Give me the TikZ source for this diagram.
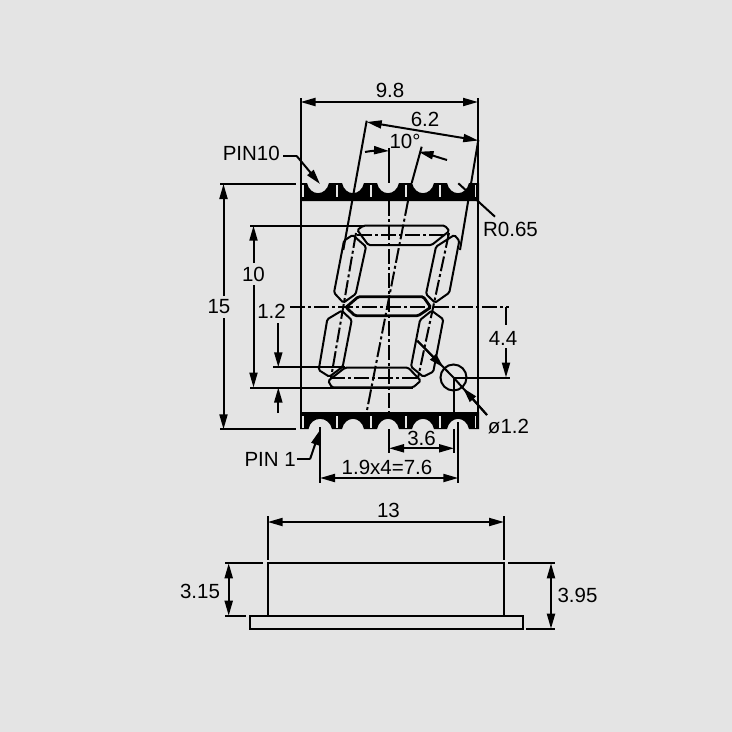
\documentclass[tikz,border=0pt]{standalone}
\usepackage{fontspec}
\setmainfont{Liberation Sans}
\usetikzlibrary{arrows.meta}
\definecolor{bgc}{HTML}{E4E4E4}
\tikzset{
  ln/.style={line width=2pt,black,line cap=butt,line join=miter},
  dim/.style={ln,{Triangle[length=15pt,width=8pt]}-{Triangle[length=15pt,width=8pt]}},
  arr/.style={ln,-{Triangle[length=15pt,width=8pt]}},
  cline/.style={ln,dash pattern=on 15pt off 3pt on 3pt off 3pt},
  seg/.style={ln,rounded corners=1.5pt},
  lab/.style={inner sep=0pt,font=\fontsize{20.5}{24}\selectfont},
  tick/.style={line width=1.5pt,bgc}
}
\begin{document}
\begin{tikzpicture}[x=1pt,y=-1pt]
\fill[bgc] (0,0) rectangle (732,732);
\useasboundingbox (0,0) rectangle (732,732);

% outline verticals
\draw[ln] (300.5,98) -- (300.5,429);
\draw[ln] (478,98) -- (478,429);

% centre lines
\draw[ln] (389,148) -- (389,183);
\draw[cline] (389,201) -- (389,412);
\draw[ln] (421.7,146.7) -- (411.7,183);
\draw[cline] (408,201) -- (366.7,411.7);
\draw[ln] (366.7,120.7) -- (343.3,250);
\draw[ln] (478.3,140) -- (460,250);
\draw[cline] (356,233) -- (331,378);
\draw[cline] (449,233) -- (418,378);
\draw[cline] (290,307) -- (509,307);
\draw[cline] (357,235) -- (448,235);
\draw[cline] (330,377.5) -- (420,377.5);

% segments
\draw[seg] (357.3,230) -- (363.3,225.7) -- (445,225.7) -- (449.3,231) -- (431.7,245) -- (368.3,245) -- cycle;
\draw[seg] (352.7,235) -- (366,246.7) -- (355.7,294) -- (343.3,302.7) -- (334,292.7) -- (344,240.7) -- cycle;
\draw[seg] (454.3,235) -- (459.3,240.7) -- (449.3,292.7) -- (435,302.7) -- (426,294) -- (436,246.7) -- cycle;
\draw[seg,line width=2.8pt] (346,307.3) -- (358.3,296.7) -- (423.3,296.7) -- (430.7,307.3) -- (418.3,315.7) -- (355,315.7) -- cycle;
\draw[seg] (341.7,310.7) -- (351.7,320) -- (342.7,366.7) -- (329.3,376.7) -- (318.7,370) -- (327.3,319.3) -- cycle;
\draw[seg] (431.7,310.7) -- (443.3,319.3) -- (433.3,371.7) -- (423.3,376.7) -- (411,366.7) -- (420,320) -- cycle;
\draw[seg] (328.3,380.7) -- (345,367.7) -- (408.3,367.7) -- (420.7,380.7) -- (413.3,387.3) -- (331.7,387.3) -- cycle;

% top pin strip
\fill[black] (300,183) -- (307,183)
  .. controls (310,196.5) and (326,196.5) .. (329,183) -- (342,183)
  .. controls (345,196.5) and (361,196.5) .. (364,183) -- (377,183)
  .. controls (380,196.5) and (396,196.5) .. (399,183) -- (412,183)
  .. controls (415,196.5) and (431,196.5) .. (434,183) -- (447,183)
  .. controls (450,196.5) and (466,196.5) .. (469,183) -- (479,183)
  -- (479,201) -- (300,201) -- cycle;
% bottom pin strip
\fill[black] (300,429) -- (308.5,429)
  .. controls (311,415.5) and (329,415.5) .. (332,429) -- (342,429)
  .. controls (345,415.5) and (361,415.5) .. (364,429) -- (377,429)
  .. controls (380,415.5) and (396,415.5) .. (399,429) -- (412,429)
  .. controls (415,415.5) and (431,415.5) .. (434,429) -- (447,429)
  .. controls (450,415.5) and (466,415.5) .. (469,429) -- (479,429)
  -- (479,412) -- (300,412) -- cycle;
\foreach \x in {303,337,371,406,440,475.5} {
  \draw[tick] (\x,184.5) -- (\x,197);
  \draw[tick] (\x,416) -- (\x,427.5);
}

% R0.65 leader
\draw[ln] (458.3,183.3) -- (495,216.7);
\node[lab] (r) at (510.5,229.5) {R0.65};

% circle and its leaders
\coordinate (cc) at (453.5,377.5);
\draw[ln] (cc) circle (13);
\draw[ln] (417.3,340.7) -- (cc);
\draw[arr] (417.3,340.7) -- (443.5,367.5);
\draw[ln] (cc) -- (487,415);
\draw[arr] (487,415) -- (463,388);
\draw[ln] (cc) -- (510,377.5);
\draw[ln] (454,377.5) -- (454,412);
\draw[ln] (454,429) -- (454,453);
\node[lab] (phi) at (508.5,426.5) {ø1.2};

% 9.8
\draw[dim] (300.5,102) -- (478,102);
\node[lab] (a) at (390,90.5) {9.8};
% 6.2
\draw[dim] (366.7,122) -- (478.3,140.5);
\node[lab] (b) at (425,119.5) {6.2};
% 10 degrees
\draw[arr] (365,152) .. controls (373,150.5) and (380,150.5) .. (389,151);
\draw[arr] (447,160) .. controls (437,157) and (428,154) .. (418.5,151.7);
\node[lab] (c) at (405,141.5) {10°};

% PIN10
\node[lab,anchor=east] (p10) at (280,153.5) {PIN10};
\coordinate (p10a) at (296.7,156);
\coordinate (p10b) at (320,184);
\draw[ln] (p10.east) ++(3,2.5) -- (p10a);
\draw[arr] (p10a) -- (p10b);

% PIN 1
\node[lab,anchor=east] (p1) at (296,459) {PIN 1};
\coordinate (p1a) at (310,459.3);
\coordinate (p1b) at (320,430);
\draw[ln] (p1.east) ++(1,0.3) -- (p1a);
\draw[arr] (p1a) -- (p1b);

% 15
\draw[ln] (220,184) -- (296,184);
\draw[ln] (220,429.3) -- (296,429.3);
\draw[arr] (223.5,296) -- (223.5,184);
\draw[arr] (223.5,318) -- (223.5,429.3);
\node[lab] (d) at (219,307) {15};

% 10
\draw[ln] (250,225.7) -- (363,225.7);
\draw[ln] (250,387.5) -- (413,387.5);
\draw[arr] (253.5,263) -- (253.5,225.7);
\draw[arr] (253.5,285) -- (253.5,387.5);
\node[lab] (e) at (253.5,274.5) {10};

% 1.2
\draw[ln] (273,367.3) -- (345,367.3);
\draw[arr] (278.3,323) -- (278.3,367.3);
\draw[arr] (278.3,413) -- (278.3,387.5);
\node[lab] (f) at (271.5,311) {1.2};

% 4.4
\draw[ln] (506,307) -- (506,325);
\draw[arr] (506,348) -- (506,377.5);
\node[lab] (g) at (503,338.5) {4.4};

% 3.6
\draw[ln] (389,429) -- (389,453);
\draw[dim] (389,448.3) -- (454,448.3);
\node[lab] (h) at (421.5,438) {3.6};

% 1.9x4=7.6
\draw[ln] (320,427) -- (320,483);
\draw[ln] (458.3,422) -- (458.3,483);
\draw[dim] (320,478) -- (458.3,478);
\node[lab] (i) at (387,467) {1.9x4=7.6};

% side view
\draw[ln] (267.7,563.3) rectangle (504,615.7);
\draw[ln] (249.5,615.7) rectangle (523.3,628.7);
\draw[ln] (267.7,516) -- (267.7,560);
\draw[ln] (504,516) -- (504,560);
\draw[dim] (267.7,522) -- (504,522);
\node[lab] (j) at (388.5,510.5) {13};
\draw[ln] (225,563.3) -- (263,563.3);
\draw[ln] (508,563.3) -- (555,563.3);
\draw[ln] (225,615.7) -- (246,615.7);
\draw[ln] (526,628.7) -- (555,628.7);
\draw[dim] (228.7,563.3) -- (228.7,615.7);
\node[lab] (k) at (200,591) {3.15};
\draw[dim] (551,563.3) -- (551,628.7);
\node[lab] (l) at (577.5,595) {3.95};
\end{tikzpicture}
\end{document}
